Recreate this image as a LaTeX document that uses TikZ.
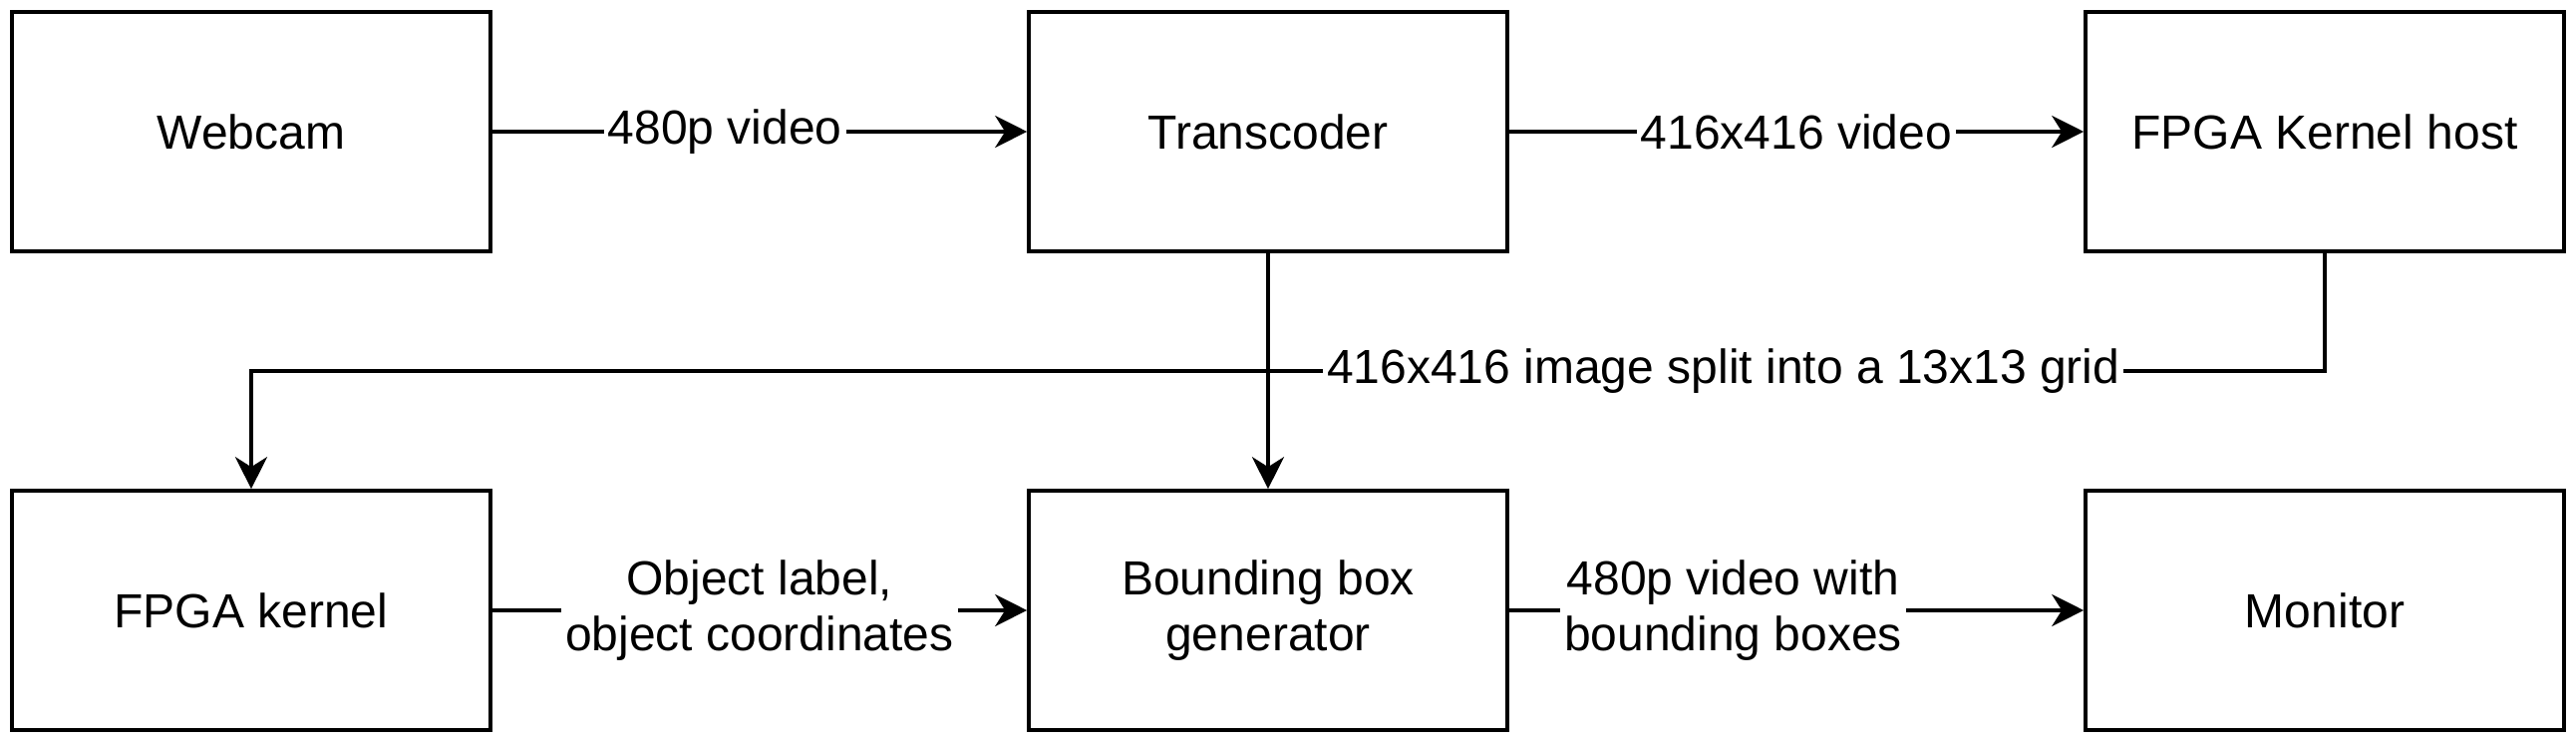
\documentclass[tikz,border=0pt]{standalone}
\usepackage{fontspec}
\setmainfont{Liberation Sans}
\usetikzlibrary{arrows.meta}
\tikzset{
	block/.style={draw, line width=0.9pt, minimum width=120pt, minimum height=60pt, align=center},
	flow/.style={line width=0.9pt, -{Stealth[length=8pt,width=8pt,inset=2.5pt]}},
	tag/.style={fill=white, inner sep=1pt, align=center}
}

\begin{document}
\begin{tikzpicture}[x=1pt, y=1pt, font=\fontsize{12}{14}\selectfont]
	\useasboundingbox (0,0) rectangle (646,187);

	% Blocks
	\node[block] (webcam) at (63,154) {Webcam};
	\node[block] (transcoder) at (318,154) {Transcoder};
	\node[block] (host) at (583,154) {FPGA Kernel host};
	\node[block] (kernel) at (63,34) {FPGA kernel};
	\node[block] (bbox) at (318,34) {Bounding box\\generator};
	\node[block] (monitor) at (583,34) {Monitor};
	\coordinate (bend) at (583,94);

	% Connections
	\draw[flow] (webcam) -- node[tag, pos=0.435] {480p video} (transcoder);
	\draw[flow] (transcoder) -- node[tag] {416x416 video} (host);
	\draw[flow] (transcoder) -- (bbox);
	\draw[flow] (host) -- (bend) -| node[tag, pos=0.145] {416x416 image split into a 13x13 grid} (kernel);
	\draw[flow] (kernel) -- node[tag] {Object label,\\object coordinates} (bbox);
	\draw[flow] (bbox) -- node[tag, pos=0.39] {480p video with\\bounding boxes} (monitor);
\end{tikzpicture}
\end{document}
